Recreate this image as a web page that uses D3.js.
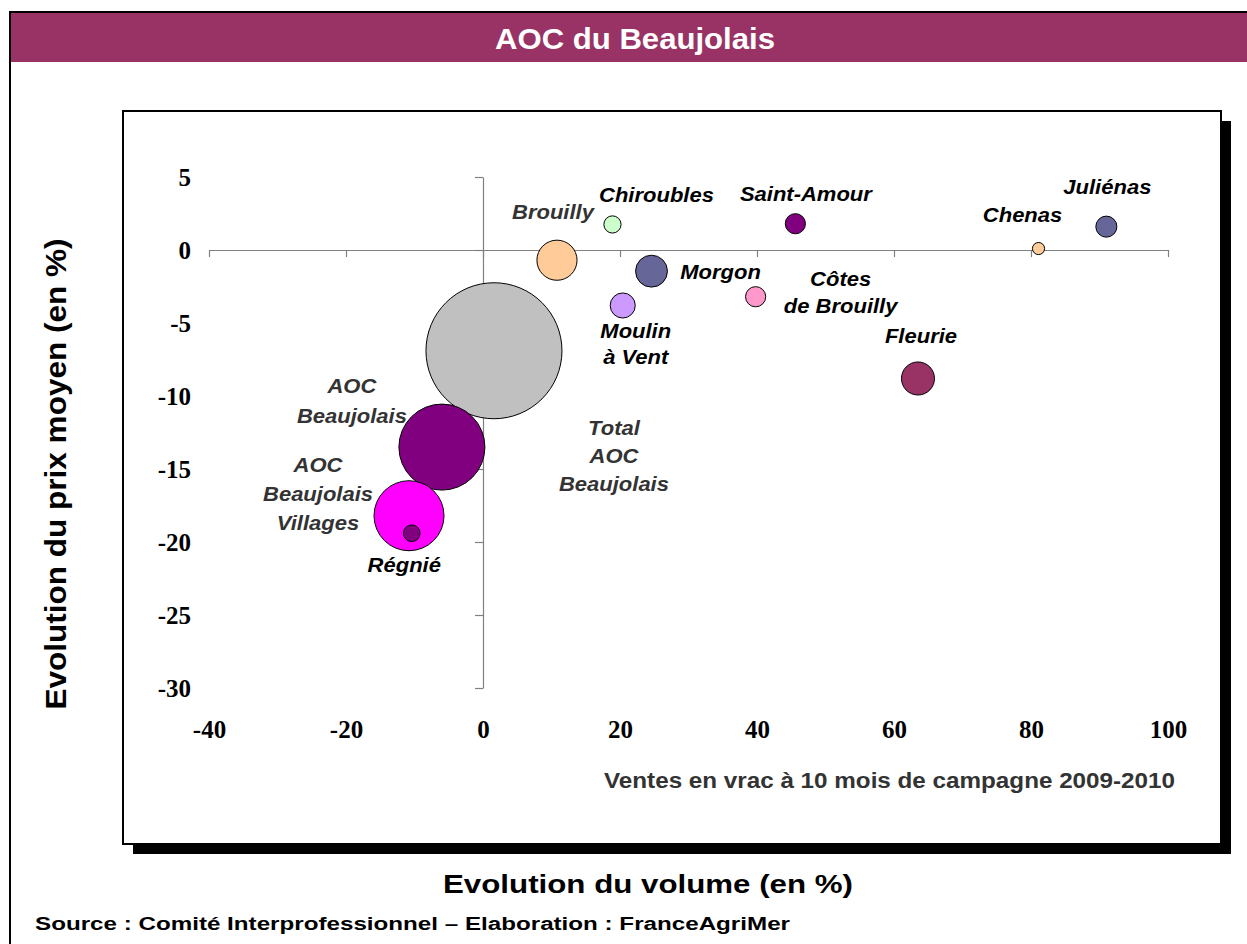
<!DOCTYPE html>
<html lang="fr">
<head>
<meta charset="utf-8">
<title>AOC du Beaujolais</title>
<script src="https://cdn.jsdelivr.net/npm/d3@7"></script>
<style>
    html, body { margin: 0; padding: 0; background: #fff; overflow: hidden; }
    svg { display: block; }
    text { font-family: "Liberation Sans", Arial, sans-serif; }
    .axis-num text { font-family: "Liberation Serif", "Times New Roman", serif; font-weight: bold; font-size: 25px; fill: #000; }
</style>
</head>
<body>
<div id="chart"></div>
<script>
// Données : évolution volume / prix, ventes en vrac à 10 mois de campagne 2009-2010
const appellations = ['Total AOC Beaujolais', 'AOC Beaujolais', 'AOC Beaujolais Villages', 'Brouilly', 'Fleurie',
    'Morgon', 'Moulin à Vent', 'Juliénas', 'Côtes de Brouilly', 'Saint-Amour', 'Chiroubles', 'Régnié', 'Chenas'];
const evolutionVolume = [1.6, -6.0, -10.8, 10.8, 63.5, 24.6, 20.4, 91.0, 39.8, 45.6, 18.9, -10.4, 81.1];
const evolutionPrix = [-6.9, -13.5, -18.2, -0.7, -8.8, -1.45, -3.8, 1.6, -3.2, 1.8, 1.75, -19.4, 0.1];
// Poids en volume (taille des bulles, total = 100)
const partVolume = [100, 40, 26.5, 8.7, 5.9, 5.5, 3.4, 2.4, 2.2, 2.2, 1.6, 1.5, 0.8];

const xTicks = [-40, -20, 0, 20, 40, 60, 80, 100];
const yTicks = [5, 0, -5, -10, -15, -20, -25, -30];

// Couleurs des bulles
const COULEURS = {
    'Total AOC Beaujolais': '#c0c0c0',
    'AOC Beaujolais': '#800080',
    'AOC Beaujolais Villages': '#ff00ff',
    'Brouilly': '#ffcc99',
    'Fleurie': '#993366',
    'Morgon': '#666699',
    'Moulin à Vent': '#cc99ff',
    'Juliénas': '#666699',
    'Côtes de Brouilly': '#ff99cc',
    'Saint-Amour': '#800080',
    'Chiroubles': '#ccffcc',
    'Régnié': '#800080',
    'Chenas': '#ffcc99'
};

// Étiquettes : lignes, décalage (px) par rapport au centre de la bulle
const ETIQUETTES = {
    'Total AOC Beaujolais': { lignes: ['Total', 'AOC', 'Beaujolais'], dx: 120, dy: 84, lh: 28, gris: true },
    'AOC Beaujolais': { lignes: ['AOC', 'Beaujolais'], dx: -90, dy: -54, lh: 29.5, gris: true },
    'AOC Beaujolais Villages': { lignes: ['AOC', 'Beaujolais', 'Villages'], dx: -91, dy: -43.5, lh: 29, gris: true },
    'Brouilly': { lignes: ['Brouilly'], dx: -4, dy: -41, gris: true },
    'Fleurie': { lignes: ['Fleurie'], dx: 3, dy: -35.5 },
    'Morgon': { lignes: ['Morgon'], dx: 69, dy: 7.5 },
    'Moulin à Vent': { lignes: ['Moulin', 'à Vent'], dx: 13, dy: 32.5, lh: 26 },
    'Juliénas': { lignes: ['Juliénas'], dx: 1, dy: -33 },
    'Côtes de Brouilly': { lignes: ['Côtes', 'de Brouilly'], dx: 85, dy: -11, lh: 27 },
    'Saint-Amour': { lignes: ['Saint-Amour'], dx: 10.5, dy: -23 },
    'Chiroubles': { lignes: ['Chiroubles'], dx: 44, dy: -22 },
    'Régnié': { lignes: ['Régnié'], dx: -7.5, dy: 39 },
    'Chenas': { lignes: ['Chenas'], dx: -16, dy: -26.5 }
};

const WIDTH = 1247;
const HEIGHT = 944;
const PLOT = { left: 123, top: 111, right: 1221, bottom: 844 };

/**
 * Ajoute un texte étiré horizontalement (textLength) à la position donnée
 */
function addText(parent, txt, x, y, opts) {
    const t = parent.append('text')
        .attr('x', x)
        .attr('y', y)
        .attr('text-anchor', opts.anchor || 'start')
        .attr('font-size', opts.size + 'px')
        .attr('font-weight', 'bold')
        .attr('fill', opts.fill || '#000')
        .text(txt);
    if (opts.length) {
        t.attr('textLength', opts.length).attr('lengthAdjust', 'spacingAndGlyphs');
    }
    if (opts.rotate) {
        t.attr('transform', `rotate(${opts.rotate},${x},${y})`);
    }
    return t;
}

function renderChart() {
    const svg = d3.select('#chart').append('svg')
        .attr('width', WIDTH)
        .attr('height', HEIGHT);

    // Cadre extérieur + bandeau titre
    svg.append('rect')
        .attr('x', 10).attr('y', 12)
        .attr('width', 1300).attr('height', 1000)
        .attr('fill', '#fff')
        .attr('stroke', '#000')
        .attr('stroke-width', 2);
    svg.append('rect')
        .attr('x', 11).attr('y', 13)
        .attr('width', 1300).attr('height', 49)
        .attr('fill', '#993366');
    addText(svg, 'AOC du Beaujolais', 635, 49, { anchor: 'middle', size: 30, fill: '#fff', length: 280 });

    // Zone de tracé avec ombre
    svg.append('rect')
        .attr('x', PLOT.left + 10).attr('y', PLOT.top + 10)
        .attr('width', PLOT.right - PLOT.left).attr('height', PLOT.bottom - PLOT.top)
        .attr('fill', '#000');
    svg.append('rect')
        .attr('x', PLOT.left).attr('y', PLOT.top)
        .attr('width', PLOT.right - PLOT.left).attr('height', PLOT.bottom - PLOT.top)
        .attr('fill', '#fff')
        .attr('stroke', '#000')
        .attr('stroke-width', 2);

    // Échelles
    const xScale = d3.scaleLinear().domain([-40, 100]).range([209, 1168]);
    const yScale = d3.scaleLinear().domain([-30, 5]).range([688, 177]);
    const rScale = d3.scaleSqrt().domain([0, 100]).range([0, 68]);

    // Axe X (croise en y = 0)
    const xAxis = svg.append('g')
        .attr('transform', `translate(0,${yScale(0)})`)
        .call(d3.axisBottom(xScale).tickValues(xTicks).tickSize(7).tickSizeOuter(0).tickFormat(''));
    // Axe Y (croise en x = 0)
    const yAxis = svg.append('g')
        .attr('transform', `translate(${xScale(0)},0)`)
        .call(d3.axisLeft(yScale).tickValues(yTicks).tickSize(8).tickSizeOuter(0).tickFormat(''));
    [xAxis, yAxis].forEach(a => {
        a.selectAll('path, line').attr('stroke', '#808080').attr('stroke-width', 1.2);
    });

    // Libellés des graduations (tiret simple comme signe moins)
    const fmt = d => String(d);
    svg.append('g')
        .attr('class', 'axis-num')
        .attr('transform', `translate(0,${yScale(-30)})`)
        .call(d3.axisBottom(xScale).tickValues(xTicks).tickSize(0).tickPadding(32).tickFormat(fmt))
        .call(g => g.select('.domain').remove());
    svg.append('g')
        .attr('class', 'axis-num')
        .attr('transform', `translate(191,0)`)
        .call(d3.axisLeft(yScale).tickValues(yTicks).tickSize(0).tickPadding(0).tickFormat(fmt))
        .call(g => g.select('.domain').remove());

    // Bulles (les plus grosses en arrière-plan)
    const points = appellations.map((nom, i) => ({
        nom: nom,
        vol: evolutionVolume[i],
        prix: evolutionPrix[i],
        part: partVolume[i]
    })).sort((a, b) => b.part - a.part);

    svg.append('g')
        .selectAll('circle')
        .data(points)
        .enter()
        .append('circle')
        .attr('cx', d => xScale(d.vol))
        .attr('cy', d => yScale(d.prix))
        .attr('r', d => rScale(d.part))
        .attr('fill', d => COULEURS[d.nom])
        .attr('stroke', '#000')
        .attr('stroke-width', 1);

    // Étiquettes des appellations
    const labels = svg.append('g');
    points.forEach(d => {
        const e = ETIQUETTES[d.nom];
        const cx = xScale(d.vol) + e.dx;
        const cy = yScale(d.prix) + e.dy;
        e.lignes.forEach((ligne, j) => {
            labels.append('text')
                .attr('transform', `translate(${cx},${cy + j * (e.lh || 0)}) scale(1.1,1)`)
                .attr('text-anchor', 'middle')
                .attr('font-size', '20px')
                .attr('font-weight', 'bold')
                .attr('font-style', 'italic')
                .attr('fill', e.gris ? '#333333' : '#000')
                .text(ligne);
        });
    });

    // Sous-titre dans la zone de tracé
    addText(svg, 'Ventes en vrac à 10 mois de campagne 2009-2010', 604, 788, { size: 22, fill: '#333333', length: 571 });

    // Titres des axes
    addText(svg, 'Evolution du volume (en %)', 648, 893, { anchor: 'middle', size: 25, length: 410 });
    addText(svg, 'Evolution du prix moyen (en %)', 66, 474, { anchor: 'middle', size: 30, length: 471, rotate: -90 });

    // Source
    addText(svg, 'Source : Comité Interprofessionnel – Elaboration : FranceAgriMer', 35, 930, { size: 18, length: 755 });
}

document.addEventListener('DOMContentLoaded', renderChart);
</script>
</body>
</html>
